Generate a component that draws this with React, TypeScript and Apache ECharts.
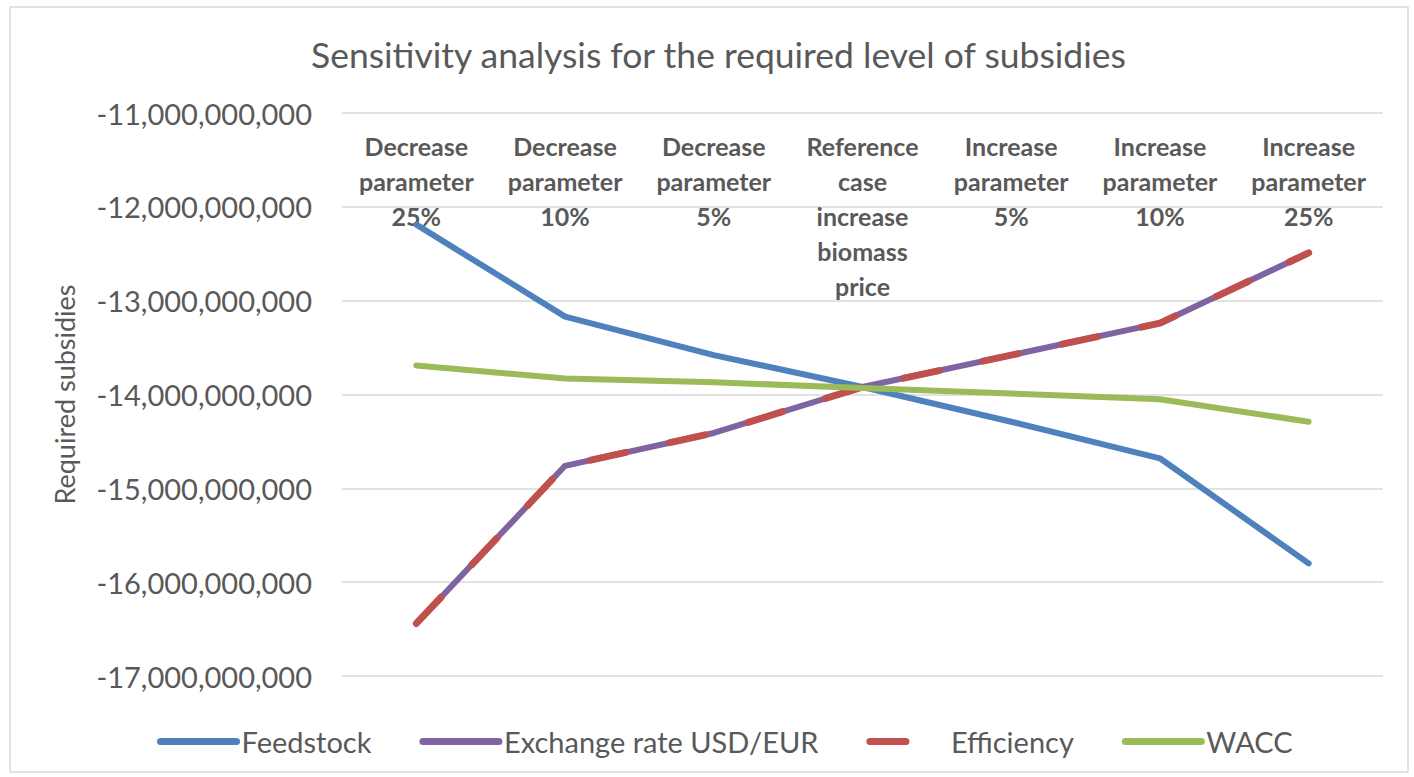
import React, { useEffect, useRef } from "react";
import * as echarts from "echarts";

const categories = [
  "Decrease parameter 25%",
  "Decrease parameter 10%",
  "Decrease parameter 5%",
  "Reference case increase biomass price",
  "Increase parameter 5%",
  "Increase parameter 10%",
  "Increase parameter 25%",
];

const feedstock = [-12.19e9, -13.17e9, -13.58e9, -13.92e9, -14.29e9, -14.68e9, -15.8e9];
const exchangeRate = [-16.44e9, -14.76e9, -14.41e9, -13.92e9, -13.58e9, -13.24e9, -12.49e9];
const efficiency = [-16.44e9, -14.76e9, -14.41e9, -13.92e9, -13.58e9, -13.24e9, -12.49e9];
const wacc = [-13.69e9, -13.83e9, -13.87e9, -13.93e9, -13.99e9, -14.05e9, -14.29e9];

const FONT = "Lato, 'Noto Sans', sans-serif";
const GREY = "#595959";

export default function App() {
  const ref = useRef<HTMLDivElement>(null);
  useEffect(() => {
    if (!ref.current) return;
    const chart = echarts.init(ref.current, null, { renderer: "svg" });
    chart.setOption({
      animation: false,
      backgroundColor: "#ffffff",
      textStyle: { fontFamily: FONT },
      title: {
        text: "Sensitivity analysis for the required level of subsidies",
        left: 306,
        top: 31,
        textStyle: { fontFamily: FONT, fontSize: 35.5, fontWeight: "normal", color: GREY },
      },
      graphic: [
        {
          type: "rect",
          shape: { x: 10, y: 7, width: 1398, height: 765 },
          style: { fill: "none", stroke: "#d9d9d9", lineWidth: 1.5 },
          silent: true,
        },
      ],
      grid: { left: 342, right: 31, top: 113, bottom: 101 },
      xAxis: {
        type: "category",
        data: categories,
        position: "top",
        boundaryGap: true,
        axisLine: { show: false },
        axisTick: { show: false },
        splitLine: { show: false },
        axisLabel: {
          inside: true,
          margin: 15,
          interval: 0,
          verticalAlign: "top",
          fontFamily: FONT,
          fontSize: 25,
          fontWeight: "bold",
          lineHeight: 35,
          color: GREY,
          formatter: (v: string) => v.split(" ").join("\n"),
        },
      },
      yAxis: {
        type: "value",
        min: -17e9,
        max: -11e9,
        interval: 1e9,
        name: "Required subsidies",
        nameLocation: "middle",
        nameRotate: 90,
        nameGap: 264,
        nameTextStyle: { fontFamily: FONT, fontSize: 27, color: GREY },
        axisLine: { show: false },
        axisTick: { show: false },
        splitLine: { lineStyle: { color: "#d9d9d9", width: 1.5 } },
        axisLabel: {
          margin: 30,
          fontFamily: FONT,
          fontSize: 29,
          color: GREY,
          formatter: (v: number) => Math.round(v).toLocaleString("en-US"),
        },
      },
      legend: {
        top: 722,
        left: 152,
        itemWidth: 76,
        itemHeight: 14,
        itemGap: 48,
        itemStyle: { opacity: 0 },
        lineStyle: { width: 7 },
        textStyle: { fontFamily: FONT, fontSize: 29, color: GREY },
        data: ["Feedstock", "Exchange rate USD/EUR", "Efficiency", "WACC"],
      },
      series: [
        {
          name: "Feedstock",
          type: "line",
          data: feedstock,
          symbol: "none",
          color: "#4F81BD",
          lineStyle: { width: 6, color: "#4F81BD", cap: "round", join: "round" },
        },
        {
          name: "Exchange rate USD/EUR",
          type: "line",
          data: exchangeRate,
          symbol: "none",
          color: "#8064A2",
          lineStyle: { width: 6, color: "#8064A2", cap: "round", join: "round" },
        },
        {
          name: "Efficiency",
          type: "line",
          data: efficiency,
          symbol: "none",
          color: "#C0504D",
          lineStyle: { width: 7, color: "#C0504D", type: [36, 45], cap: "round", join: "round" },
        },
        {
          name: "WACC",
          type: "line",
          data: wacc,
          symbol: "none",
          color: "#9BBB59",
          lineStyle: { width: 6, color: "#9BBB59", cap: "round", join: "round" },
        },
      ],
    });
    return () => chart.dispose();
  }, []);
  return (
    <div
      ref={ref}
      style={{ position: "fixed", left: 0, top: 0, width: 1414, height: 777 }}
    />
  );
}
